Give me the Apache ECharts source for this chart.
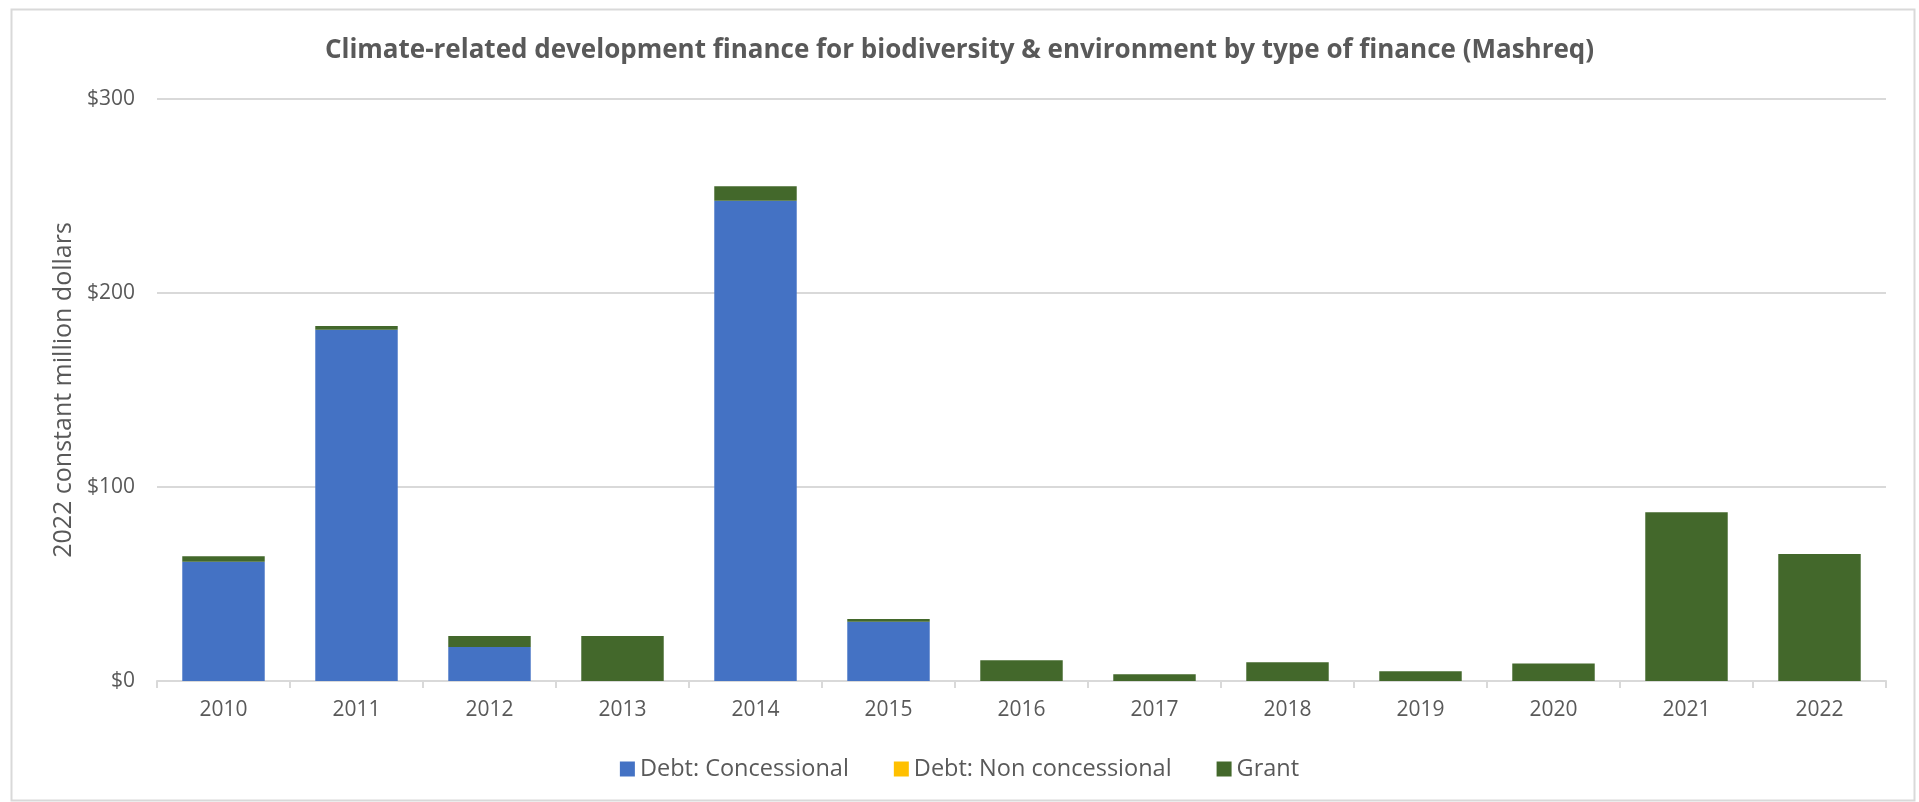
<!DOCTYPE html>
<html>
<head>
<meta charset="utf-8">
<script src="https://cdn.jsdelivr.net/npm/echarts@6/dist/echarts.min.js"></script>
<style>
  html, body { margin: 0; padding: 0; background: #ffffff; }
  #chart { width: 1919px; height: 802px; }
</style>
</head>
<body>
<div id="chart"></div>
<script>
// Years on the category axis
const years = ['2010', '2011', '2012', '2013', '2014', '2015', '2016', '2017', '2018', '2019', '2020', '2021', '2022'];

// Finance by type, 2022 constant million dollars
const debtConcessional = [61.5, 181, 17.5, 0, 247.5, 30.5, 0, 0, 0, 0, 0, 0, 0];
const debtNonConcessional = [0, 0, 0, 0, 0, 0, 0, 0, 0, 0, 0, 0, 0];
const grant = [2.8, 2, 5.7, 23.2, 7.5, 1.5, 10.7, 3.5, 9.7, 5, 9, 87, 65.5];

// Value axis ticks
const yTicks = [0, 100, 200, 300];

const seriesNames = ['Debt: Concessional', 'Debt: Non concessional', 'Grant'];
const seriesColors = ['#4472C4', '#FFC000', '#43682B'];

const textColor = '#595959';
const font = '"Open Sans", "Noto Sans", sans-serif';

const chart = echarts.init(document.getElementById('chart'), null, { renderer: 'canvas' });

function barSeries(name, data, color) {
  return {
    name: name,
    type: 'bar',
    stack: 'total',
    data: data,
    barCategoryGap: '38%',
    itemStyle: { color: color },
    emphasis: { disabled: true }
  };
}

chart.setOption({
  backgroundColor: '#ffffff',
  animation: false,
  textStyle: { fontFamily: font },
  graphic: [{
    type: 'rect',
    shape: { x: 11.5, y: 9.5, width: 1903, height: 791 },
    style: { fill: 'none', stroke: '#d9d9d9', lineWidth: 2 },
    silent: true,
    z: -1
  }],
  title: {
    text: 'Climate-related development finance for biodiversity & environment by type of finance (Mashreq)',
    left: 'center',
    top: 33,
    textStyle: { fontFamily: font, fontSize: 26, fontWeight: 'bold', color: textColor }
  },
  legend: {
    data: seriesNames,
    top: 752,
    left: 'center',
    itemWidth: 15,
    itemHeight: 15,
    itemGap: 45,
    icon: 'rect',
    textStyle: { fontFamily: font, fontSize: 23.5, color: textColor }
  },
  grid: { left: 157, right: 33, top: 99, bottom: 121, containLabel: false },
  xAxis: {
    type: 'category',
    data: years,
    axisLine: { lineStyle: { color: '#d9d9d9', width: 2 } },
    axisTick: { show: true, length: 7, lineStyle: { color: '#d9d9d9', width: 2 } },
    axisLabel: { fontFamily: font, fontSize: 21, color: textColor, margin: 19 }
  },
  yAxis: {
    type: 'value',
    min: yTicks[0],
    max: yTicks[yTicks.length - 1],
    interval: yTicks[1] - yTicks[0],
    name: '2022 constant million dollars',
    nameLocation: 'middle',
    nameGap: 80,
    nameTextStyle: { fontFamily: font, fontSize: 25, color: textColor },
    axisLine: { show: false },
    axisTick: { show: false },
    splitLine: { lineStyle: { color: '#d9d9d9', width: 2 } },
    axisLabel: {
      fontFamily: font,
      fontSize: 21,
      color: textColor,
      margin: 22,
      formatter: function (v) { return '$' + v; }
    }
  },
  series: [
    barSeries(seriesNames[0], debtConcessional, seriesColors[0]),
    barSeries(seriesNames[1], debtNonConcessional, seriesColors[1]),
    barSeries(seriesNames[2], grant, seriesColors[2])
  ]
});
</script>
</body>
</html>
